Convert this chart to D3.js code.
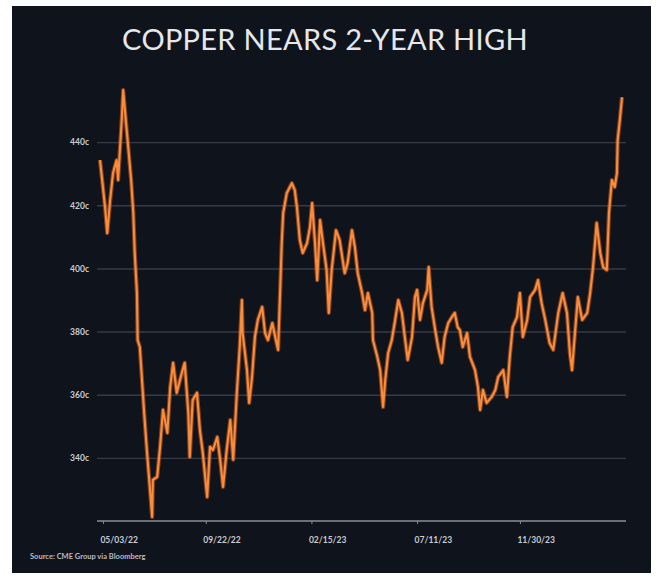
<!DOCTYPE html>
<html>
<head>
<meta charset="utf-8">
<script src="https://cdn.jsdelivr.net/npm/d3@7"></script>
<style>
  html, body { margin: 0; padding: 0; background: #ffffff; }
  svg { display: block; }
</style>
</head>
<body>
<svg id="chart" width="659" height="577"></svg>
<script>
// COMEX copper, cents per pound
const dates = [
  "2022-04-29","2022-05-02","2022-05-06","2022-05-09","2022-05-13","2022-05-17","2022-05-22","2022-05-24",
  "2022-05-29","2022-05-31","2022-06-04","2022-06-07","2022-06-11","2022-06-14","2022-06-16","2022-06-19",
  "2022-06-20","2022-06-23","2022-06-26","2022-06-29","2022-07-03","2022-07-06","2022-07-10","2022-07-11",
  "2022-07-17","2022-07-21","2022-07-25","2022-07-31","2022-08-04","2022-08-08","2022-08-13","2022-08-20",
  "2022-08-24","2022-08-29","2022-08-31","2022-09-04","2022-09-10","2022-09-14","2022-09-18","2022-09-24",
  "2022-09-28","2022-10-02","2022-10-08","2022-10-12","2022-10-16","2022-10-21","2022-10-26","2022-10-30",
  "2022-11-04","2022-11-08","2022-11-11","2022-11-12","2022-11-18","2022-11-21","2022-11-25","2022-11-29",
  "2022-12-03","2022-12-09","2022-12-13","2022-12-17","2022-12-23","2022-12-27","2022-12-31","2023-01-03",
  "2023-01-05","2023-01-07","2023-01-12","2023-01-19","2023-01-23","2023-01-26","2023-01-30","2023-02-03",
  "2023-02-09","2023-02-13","2023-02-16","2023-02-20","2023-02-23","2023-02-27","2023-03-03","2023-03-08",
  "2023-03-11","2023-03-15","2023-03-21","2023-03-26","2023-04-02","2023-04-06","2023-04-12","2023-04-16",
  "2023-04-20","2023-04-26","2023-04-30","2023-05-04","2023-05-10","2023-05-11","2023-05-17","2023-05-21",
  "2023-05-25","2023-05-28","2023-06-01","2023-06-06","2023-06-10","2023-06-15","2023-06-20","2023-06-24",
  "2023-06-28","2023-07-04","2023-07-08","2023-07-11","2023-07-15","2023-07-19","2023-07-25","2023-07-27",
  "2023-07-31","2023-08-05","2023-08-09","2023-08-14","2023-08-18","2023-08-23","2023-08-28","2023-09-01",
  "2023-09-05","2023-09-08","2023-09-12","2023-09-18","2023-09-22","2023-09-29","2023-10-03","2023-10-06",
  "2023-10-10","2023-10-15","2023-10-22","2023-10-27","2023-10-31","2023-11-07","2023-11-12","2023-11-16",
  "2023-11-20","2023-11-26","2023-11-30","2023-12-04","2023-12-10","2023-12-14","2023-12-21","2023-12-25",
  "2023-12-30","2024-01-04","2024-01-10","2024-01-15","2024-01-22","2024-01-28","2024-02-03","2024-02-07",
  "2024-02-10","2024-02-14","2024-02-18","2024-02-24","2024-03-02","2024-03-06","2024-03-10","2024-03-15",
  "2024-03-20","2024-03-24","2024-03-29","2024-04-01","2024-04-05","2024-04-09","2024-04-12","2024-04-13",
  "2024-04-16","2024-04-19"
];
const prices = [
  434.3,428.0,419.4,411.2,421.6,430.2,434.3,428.0,
  447.0,456.5,446.0,438.4,428.0,417.5,404.9,392.2,
  377.3,375.1,364.7,354.2,341.6,333.0,321.3,333.0,
  334.0,343.5,355.2,347.9,362.5,370.1,360.6,366.9,
  370.1,354.2,340.3,358.3,360.6,348.8,341.6,327.6,
  343.5,342.5,346.6,339.4,330.8,342.5,352.0,339.4,
  360.6,375.1,390.0,379.5,367.8,357.4,365.6,378.3,
  383.7,387.8,379.5,377.3,382.7,378.3,374.2,394.1,
  408.0,417.5,423.9,427.0,424.8,419.4,409.0,404.9,
  408.0,413.1,420.7,408.0,396.3,415.3,408.0,399.5,
  385.9,399.5,412.1,409.0,398.5,401.7,412.1,406.8,
  398.5,392.2,386.8,392.2,385.9,377.3,372.0,367.8,
  356.1,364.7,373.2,377.3,382.7,390.0,385.9,378.3,
  371.0,378.3,390.9,393.2,383.7,389.0,393.2,400.4,
  387.8,380.5,375.1,370.1,378.3,382.7,384.6,385.9,
  381.4,380.5,375.1,379.5,372.0,367.8,362.5,355.2,
  361.5,357.4,359.3,361.5,365.6,367.8,359.3,372.0,
  381.4,384.6,392.2,378.3,383.7,390.9,393.2,396.3,
  389.0,383.7,376.4,374.2,385.9,392.2,385.9,373.2,
  367.8,379.5,390.9,383.7,385.9,392.2,400.4,414.4,
  404.9,400.4,399.5,417.5,428.0,425.8,430.2,440.6,
  447.0,454.2
];
const yTicks = [340, 360, 380, 400, 420, 440];
const xTickDates = ["2022-05-03", "2022-09-22", "2023-02-15", "2023-07-11", "2023-11-30"];

const title = "COPPER NEARS 2-YEAR HIGH";
const source = "Source: CME Group via Bloomberg";

const W = 659, H = 577;
const parse = d3.timeParse("%Y-%m-%d");
const fmt = d3.timeFormat("%m/%d/%y");
const series = dates.map((d, i) => ({ date: parse(d), value: prices[i] }));

const svg = d3.select("#chart");

// dark card
svg.append("rect")
  .attr("x", 12).attr("y", 6)
  .attr("width", W - 20).attr("height", H - 10)
  .attr("fill", "#0f131b");

const plot = { left: 100, right: 622, top: 79, bottom: 521 };
const gridLeft = 97, gridRight = 626;

const x = d3.scaleTime()
  .domain(d3.extent(series, d => d.date))
  .range([plot.left, plot.right]);

const y = d3.scaleLinear()
  .domain([320, 460])
  .range([plot.bottom, plot.top]);

// title
svg.append("text")
  .attr("x", 325).attr("y", 50)
  .attr("text-anchor", "middle")
  .attr("font-family", "Lato, 'Open Sans', sans-serif")
  .attr("font-size", 29)
  .attr("fill", "#e6e7ea")
  .attr("letter-spacing", 0.3)
  .text(title);

// horizontal grid
const grid = svg.append("g")
  .attr("transform", `translate(${gridLeft},0)`)
  .call(d3.axisLeft(y).tickValues(yTicks).tickSize(-(gridRight - gridLeft)).tickFormat(""));
grid.select(".domain").remove();
grid.selectAll(".tick line")
  .attr("stroke", "#363b46")
  .attr("stroke-width", 1.4);

// y labels
const yAxis = svg.append("g")
  .attr("transform", `translate(89,0)`)
  .call(d3.axisLeft(y).tickValues(yTicks).tickSize(0).tickPadding(0).tickFormat(d => d + "c"));
yAxis.select(".domain").remove();
yAxis.selectAll("text")
  .attr("font-family", "Lato, sans-serif")
  .attr("font-size", 8.5)
  .attr("font-weight", 700)
  .attr("fill", "#c9ccd2");

// x axis
const xAxis = svg.append("g")
  .attr("transform", `translate(0,${plot.bottom})`)
  .call(d3.axisBottom(x).tickValues(xTickDates.map(parse)).tickSize(3).tickPadding(13).tickFormat(fmt));
xAxis.select(".domain")
  .attr("d", `M${gridLeft},0H${gridRight}`)
  .attr("stroke", "#8a8f99")
  .attr("stroke-width", 1.3);
xAxis.selectAll(".tick line").attr("stroke", "#8a8f99");
xAxis.selectAll("text")
  .attr("text-anchor", "start")
  .attr("dx", -3)
  .attr("font-family", "Lato, sans-serif")
  .attr("font-size", 8.5)
  .attr("font-weight", 700)
  .attr("fill", "#c9ccd2");

// price line: soft halo under a brighter core
const line = d3.line()
  .x(d => x(d.date))
  .y(d => y(d.value))
  .curve(d3.curveLinear);

svg.append("path")
  .datum(series)
  .attr("d", line)
  .attr("fill", "none")
  .attr("stroke", "#e2661f")
  .attr("stroke-opacity", 0.55)
  .attr("stroke-width", 4.2)
  .attr("stroke-linejoin", "round");

svg.append("path")
  .datum(series)
  .attr("d", line)
  .attr("fill", "none")
  .attr("stroke", "#f78d3e")
  .attr("stroke-width", 2.1)
  .attr("stroke-linejoin", "round");

// source note
svg.append("text")
  .attr("x", 30).attr("y", 559)
  .attr("font-family", "Lato, sans-serif")
  .attr("font-size", 7.5)
  .attr("font-weight", 700)
  .attr("fill", "#b9bcc3")
  .text(source);
</script>
</body>
</html>
